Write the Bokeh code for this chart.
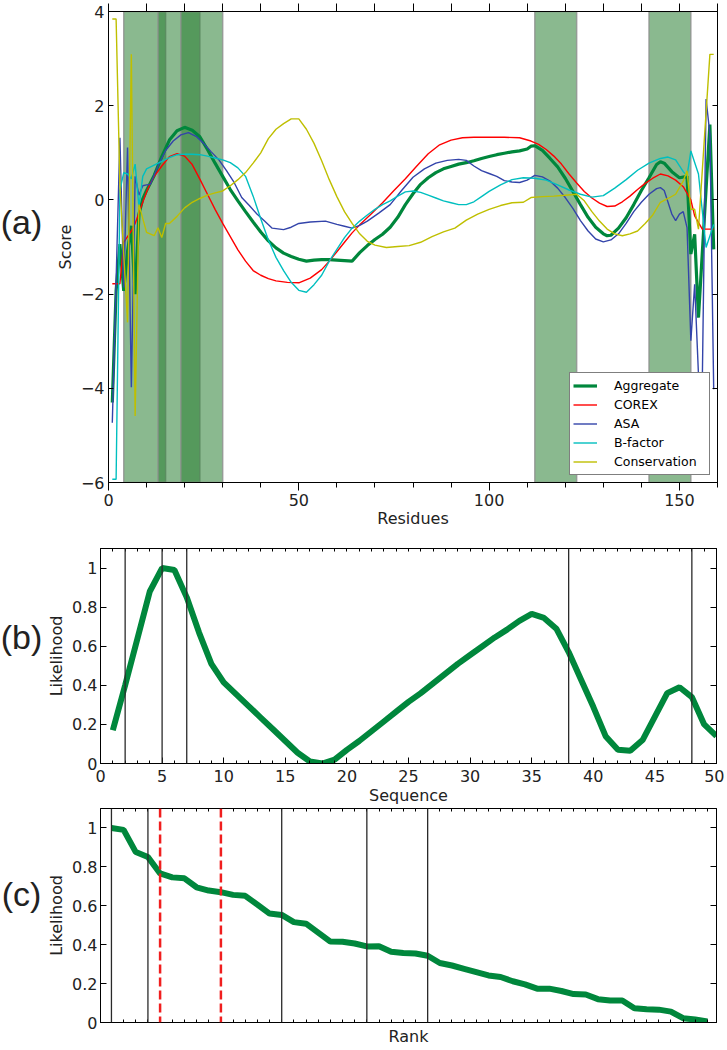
from bokeh.plotting import figure
from bokeh.models import (LinearAxis, Range1d, SingleIntervalTicker, FixedTicker,
                          BoxAnnotation, Span, Legend, LegendItem)
from bokeh.core.properties import value
from bokeh.layouts import column, row
from bokeh.embed import file_html
from bokeh.resources import INLINE

# ---------------- data: panel (a) ----------------
agg_x = [1,2,3,4,5,6,7,8,9,10,12,14,16,18,20,22,24,26,28,30,32,34,36,38,40,42,44,46,48,50,
         52,54,56,58,60,62,64,66,68,70,72,74,76,78,80,82,84,86,88,90,92,94,96,98,100,102,104,106,108,110,
         111,112,114,116,118,120,122,124,126,128,130,131,132,134,136,138,140,142,144,
         145,146,148,150,152,153,154,155,158,159]
agg_y = [-4.3,-1.93,-0.94,-1.93,-1.1,-0.55,-2.0,-0.3,0.02,0.2,
         0.52,0.92,1.27,1.47,1.54,1.48,1.34,1.07,0.78,0.5,0.22,-0.02,-0.25,-0.47,-0.68,-0.87,-1.02,-1.13,-1.2,-1.26,
         -1.3,-1.28,-1.27,-1.27,-1.28,-1.29,-1.3,-1.12,-0.97,-0.84,-0.73,-0.58,-0.37,-0.1,0.13,0.33,0.47,0.58,0.66,0.71,
         0.76,0.79,0.83,0.88,0.92,0.96,0.99,1.02,1.04,1.08,
         1.14,1.15,1.05,0.88,0.7,0.46,0.18,-0.1,-0.37,-0.58,-0.72,-0.76,-0.75,-0.6,-0.38,-0.1,0.2,0.47,0.75,
         0.81,0.78,0.6,0.47,0.5,-1.15,-0.73,-2.5,1.6,-1.05]

corex_x = [1,3,4,5,6,7,8,9,10,11,12,14,16,18,20,22,24,26,28,30,32,34,36,38,40,42,44,47,50,53,56,
           58,60,62,64,66,69,72,75,78,81,84,87,90,93,96,100,104,108,111,
           113,115,117,119,121,123,125,127,129,131,133,135,137,139,141,143,145,147,149,151,153,154,156,159]
corex_y = [-1.78,-1.78,-0.9,-0.78,-0.66,-0.5,-0.28,-0.05,0.17,0.35,0.5,0.72,0.92,0.98,0.93,0.75,0.44,0.12,
           -0.2,-0.5,-0.78,-1.06,-1.3,-1.5,-1.6,-1.67,-1.72,-1.75,-1.76,-1.66,-1.48,
           -1.3,-1.1,-0.9,-0.7,-0.53,-0.3,-0.06,0.2,0.45,0.72,0.98,1.17,1.27,1.32,1.33,1.33,1.33,1.32,1.25,
           1.18,1.07,0.93,0.76,0.55,0.36,0.18,0.04,-0.07,-0.14,-0.13,-0.04,0.08,0.22,0.35,0.46,0.55,0.51,0.42,0.28,0.0,
           -0.34,-0.62,-0.62]

asa_x = [1,3,4,5,6,7,8,9,10,11,13,15,17,19,21,23,25,27,29,31,33,35,37,39,41,43,
         46,48,50,53,57,60,62,64,66,68,71,74,77,80,83,86,89,92,
         94,96,98,100,102,104,106,108,110,112,114,116,118,120,122,124,126,128,130,132,134,136,138,140,142,144,
         145,146,148,149,150,151,152,153,154,155,156,157,158,159]
asa_y = [-4.73,1.32,-1.86,1.11,-3.98,0.5,0.1,0.3,0.32,0.33,
         0.72,1.05,1.25,1.38,1.43,1.35,1.2,1.02,0.85,0.62,0.37,0.05,-0.12,-0.3,-0.45,-0.6,
         -0.63,-0.58,-0.5,-0.47,-0.45,-0.52,-0.56,-0.6,-0.54,-0.45,-0.28,-0.1,0.2,0.48,0.66,0.78,0.84,0.86,
         0.84,0.72,0.62,0.56,0.5,0.41,0.38,0.37,0.42,0.52,0.49,0.4,0.25,0.05,-0.18,-0.44,-0.66,-0.83,-0.89,-0.85,
         -0.72,-0.5,-0.25,-0.05,0.12,0.24,
         0.26,0.2,-0.3,-0.44,-0.3,-0.25,-0.59,-2.99,-1.79,-3.7,-3.9,2.14,1.4,-4.02]

bfac_x = [1,2,3,4,5,6,7,8,9,10,12,14,16,18,20,22,24,26,28,30,32,34,36,38,40,42,44,46,48,50,
          52,54,56,58,60,62,64,66,68,70,72,74,76,78,80,82,84,86,88,90,92,94,96,98,100,
          103,106,109,112,115,118,121,124,127,130,133,136,139,142,145,147,149,151,152,153,155,157,159]
bfac_y = [-5.93,-5.93,0.2,0.58,0.55,0.45,0.76,-0.15,0.5,0.66,
          0.74,0.82,0.9,0.96,0.97,0.97,0.96,0.93,0.89,0.85,0.79,0.68,0.5,0.08,-0.4,-0.85,-1.22,-1.5,-1.75,-1.92,
          -1.96,-1.8,-1.6,-1.3,-1.05,-0.8,-0.6,-0.45,-0.32,-0.2,-0.1,-0.02,0.08,0.17,0.19,0.16,0.1,0.04,-0.02,-0.06,
          -0.1,-0.1,-0.04,0.07,0.18,
          0.32,0.43,0.47,0.46,0.42,0.32,0.21,0.12,0.06,0.09,0.25,0.43,0.63,0.78,0.88,0.91,0.85,0.6,0.51,1.04,0.55,-1.01,-0.52]

cons_x = [1,2,3,5,6,7,8,10,12,13,14,15,16,18,20,22,24,26,28,30,32,34,36,38,40,42,44,46,48,50,
          52,54,56,58,60,62,64,66,68,70,73,76,79,82,85,88,91,94,97,100,103,106,109,
          111,114,117,120,123,125,127,129,131,133,135,137,139,141,143,145,147,149,151,152,153,154,155,158,159]
cons_y = [3.84,3.84,0.3,-2.6,3.09,-4.59,-0.1,-0.69,-0.76,-0.59,-0.8,-0.5,-0.5,
          -0.35,-0.17,-0.05,0.03,0.1,0.15,0.19,0.3,0.43,0.58,0.78,1.0,1.3,1.5,1.62,1.72,1.72,
          1.5,1.2,0.83,0.43,0.07,-0.25,-0.5,-0.72,-0.88,-0.96,
          -1.01,-0.99,-0.97,-0.9,-0.78,-0.68,-0.6,-0.43,-0.3,-0.2,-0.12,-0.06,-0.05,
          0.05,0.07,0.08,0.1,0.12,-0.02,-0.25,-0.45,-0.62,-0.72,-0.76,-0.72,-0.66,-0.5,-0.32,-0.05,0.03,0.12,0.4,
          0.62,-0.2,-0.2,-0.62,3.09,3.09]

band_start = [4, 13, 19, 112, 142]
band_end = [15, 24, 30, 123, 153]

series_names = ["Aggregate", "COREX", "ASA", "B-factor", "Conservation"]
a_yticks = [-6, -4, -2, 0, 2, 4]
panel_tags = ["(a)", "(b)", "(c)"]

# ---------------- data: panel (b) ----------------
seq_x = list(range(1, 51))
seq_y = [0.17,0.40,0.64,0.88,1.0,0.99,0.85,0.67,0.51,0.415,
         0.355,0.295,0.235,0.175,0.115,0.055,0.01,0.0,0.02,0.07,
         0.115,0.165,0.215,0.265,0.315,0.36,0.41,0.46,0.51,0.555,
         0.60,0.645,0.685,0.73,0.765,0.745,0.69,0.57,0.43,0.29,
         0.14,0.07,0.065,0.12,0.24,0.36,0.39,0.34,0.2,0.14]
seq_marks = [2, 5, 7, 38, 48]

# ---------------- data: panel (c) ----------------
rank_x = list(range(1, 51))
rank_y = [1.0,0.99,0.876,0.851,0.766,0.746,0.741,0.695,0.678,0.67,
          0.656,0.651,0.606,0.56,0.553,0.516,0.508,0.462,0.416,0.415,
          0.406,0.391,0.392,0.364,0.357,0.355,0.343,0.306,0.293,0.276,
          0.259,0.242,0.234,0.212,0.196,0.174,0.174,0.162,0.146,0.144,
          0.12,0.113,0.113,0.073,0.068,0.066,0.056,0.022,0.015,0.005]
rank_marks = [1, 4, 15, 22, 27]
rank_cut = [5, 10]

FONT = "DejaVu Sans"
TXT = "#222222"
GREEN = "#00873c"
TAG_W = 44


def style_axis(ax):
    ax.major_label_text_font = FONT
    ax.major_label_text_font_size = "16px"
    ax.major_label_text_color = TXT
    ax.axis_label_text_font = FONT
    ax.axis_label_text_font_size = "16px"
    ax.axis_label_text_font_style = "normal"
    ax.axis_label_text_color = TXT
    ax.axis_line_color = "black"
    ax.major_tick_line_color = "black"
    ax.minor_tick_line_color = "black"


def mirror(p, side, ticks, tin, tout):
    ax = LinearAxis(ticker=FixedTicker(ticks=[], minor_ticks=ticks),
                    major_tick_in=0, major_tick_out=0,
                    minor_tick_in=tin, minor_tick_out=tout,
                    axis_line_color="black", minor_tick_line_color="black")
    p.add_layout(ax, side)


def base_fig(h, xr, yr, left, right, top, bottom):
    p = figure(width=left + right + 0, height=h, x_range=xr, y_range=yr,
               output_backend="svg", toolbar_location=None,
               min_border_left=left, min_border_right=right,
               min_border_top=top, min_border_bottom=bottom)
    p.grid.visible = False
    p.outline_line_color = "black"
    p.outline_line_width = 1
    p.background_fill_color = "white"
    p.border_fill_color = "white"
    style_axis(p.below[0])
    style_axis(p.left[0])
    return p


def tag_fig(h, tag, cx, cy):
    # narrow figure to the left of a panel that carries the panel tag
    t = figure(width=TAG_W, height=h, x_range=Range1d(0, TAG_W), y_range=Range1d(h, 0),
               output_backend="svg", toolbar_location=None,
               min_border_left=0, min_border_right=0, min_border_top=0, min_border_bottom=0,
               x_axis_location=None, y_axis_location=None)
    t.grid.visible = False
    t.outline_line_color = None
    t.background_fill_color = "white"
    t.border_fill_color = "white"
    t.text(x=[cx], y=[cy], text=[tag], text_font=value("Liberation Sans"),
           text_font_size="34px", text_align="center", text_baseline="middle",
           text_color=TXT)
    return t


# ================= panel (a) =================
HA = 542
pa = figure(width=680, height=HA, x_range=Range1d(0, 160), y_range=Range1d(-6, 4),
            output_backend="svg", toolbar_location=None,
            min_border_left=64, min_border_right=7, min_border_top=11, min_border_bottom=60)
pa.grid.visible = False
pa.outline_line_color = "black"
pa.border_fill_color = "white"
style_axis(pa.below[0])
style_axis(pa.left[0])
xa = pa.below[0]
xa.ticker = SingleIntervalTicker(interval=50, num_minor_ticks=5)
xa.major_tick_in = 0
xa.major_tick_out = 8
xa.minor_tick_in = 0
xa.minor_tick_out = 5
xa.major_label_standoff = 3
xa.axis_label = "Residues"
xa.axis_label_standoff = 0
ya = pa.left[0]
ya.ticker = FixedTicker(ticks=a_yticks)
ya.major_tick_in = 5
ya.major_tick_out = 0
ya.major_label_standoff = 4
ya.axis_label = "Score"
ya.axis_label_standoff = 3
ya.major_label_overrides = {t: ("\u2212" + str(-t) if t < 0 else str(t)) for t in a_yticks}
mirror(pa, "right", a_yticks, 5, 0)
mirror(pa, "above", list(range(0, 161, 10)), 0, 8)

for s, e in zip(band_start, band_end):
    pa.add_layout(BoxAnnotation(left=s, right=e, fill_color="#2a7f33", fill_alpha=0.55,
                                line_color="#8f8f8f", line_alpha=0.8, line_width=1.5,
                                level="underlay"))

r_agg = pa.line(agg_x, agg_y, line_color=GREEN, line_width=3.2)
r_cor = pa.line(corex_x, corex_y, line_color="#ff0000", line_width=1.4)
r_asa = pa.line(asa_x, asa_y, line_color="#3344aa", line_width=1.4)
r_bf = pa.line(bfac_x, bfac_y, line_color="#00bfbf", line_width=1.4)
r_con = pa.line(cons_x, cons_y, line_color="#bfbf00", line_width=1.4)

legend = Legend(items=[LegendItem(label=n, renderers=[r])
                       for n, r in zip(series_names, [r_agg, r_cor, r_asa, r_bf, r_con])],
                location="bottom_right", margin=7, padding=3, spacing=0,
                label_height=19, glyph_height=19, glyph_width=24, label_standoff=17,
                label_width=92, border_line_color="black", border_line_width=1,
                label_text_font=FONT, label_text_font_size="12.5px", label_text_color="black",
                background_fill_color="white", background_fill_alpha=1)
pa.add_layout(legend)
ta = tag_fig(HA, panel_tags[0], 21, 242)

# ================= panel (b) =================
HB = 266
pb = figure(width=680, height=HB, x_range=Range1d(0, 50), y_range=Range1d(0, 1.1),
            output_backend="svg", toolbar_location=None,
            min_border_left=55, min_border_right=8, min_border_top=6, min_border_bottom=45)
pb.grid.visible = False
pb.outline_line_color = "black"
pb.border_fill_color = "white"
style_axis(pb.below[0])
style_axis(pb.left[0])
xb = pb.below[0]
xb.ticker = SingleIntervalTicker(interval=5, num_minor_ticks=5)
xb.major_tick_in = 6
xb.major_tick_out = 0
xb.minor_tick_in = 3
xb.minor_tick_out = 0
xb.major_label_standoff = 6
xb.axis_label = "Sequence"
xb.axis_label_standoff = 1
yb = pb.left[0]
yb.ticker = SingleIntervalTicker(interval=0.2, num_minor_ticks=0)
yb.major_tick_in = 6
yb.major_tick_out = 0
yb.major_label_standoff = 3
yb.axis_label = "Likelihood"
yb.axis_label_standoff = 3
mirror(pb, "right", [0.0, 0.2, 0.4, 0.6, 0.8, 1.0], 6, 0)
mirror(pb, "above", list(range(0, 51)), 3, 0)
for m in seq_marks:
    pb.add_layout(Span(location=m, dimension="height", line_color="#2a2a2a", line_width=1.3))
pb.line(seq_x, seq_y, line_color=GREEN, line_width=6)
tb = tag_fig(HB, panel_tags[1], 21, 651 - HA)

# ================= panel (c) =================
HC = 240
pc = figure(width=680, height=HC, x_range=Range1d(0.1, 50.75), y_range=Range1d(0, 1.1),
            output_backend="svg", toolbar_location=None,
            min_border_left=55, min_border_right=8, min_border_top=0, min_border_bottom=24)
pc.grid.visible = False
pc.outline_line_color = "black"
pc.border_fill_color = "white"
style_axis(pc.below[0])
style_axis(pc.left[0])
xc = pc.below[0]
xc.ticker = FixedTicker(ticks=[], minor_ticks=rank_x)
xc.major_tick_in = 0
xc.major_tick_out = 0
xc.minor_tick_in = 3
xc.minor_tick_out = 0
xc.axis_label = "Rank"
xc.axis_label_standoff = 4
yc = pc.left[0]
yc.ticker = SingleIntervalTicker(interval=0.2, num_minor_ticks=0)
yc.major_tick_in = 6
yc.major_tick_out = 0
yc.major_label_standoff = 3
yc.axis_label = "Likelihood"
yc.axis_label_standoff = 3
mirror(pc, "right", [0.0, 0.2, 0.4, 0.6, 0.8, 1.0], 6, 0)
mirror(pc, "above", rank_x, 3, 0)
for m in rank_marks:
    pc.add_layout(Span(location=m, dimension="height", line_color="#2a2a2a", line_width=1.3))
for m in rank_cut:
    pc.add_layout(Span(location=m, dimension="height", line_color="#f01e1e", line_width=2.5,
                       line_dash="9 4"))
pc.line(rank_x, rank_y, line_color=GREEN, line_width=6)
tc = tag_fig(HC, panel_tags[2], 21, 904 - HA - HB)

layout = column(row(ta, pa, spacing=0), row(tb, pb, spacing=0), row(tc, pc, spacing=0), spacing=0)
open("out.html", "w").write(file_html(layout, INLINE))
